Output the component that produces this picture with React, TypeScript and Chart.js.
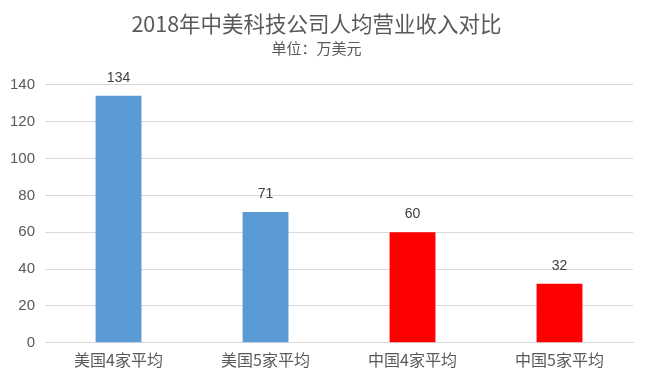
import React, { useEffect, useRef } from "react";
import { Chart, registerables } from "chart.js";

Chart.register(...registerables);

const categories = ["美国4家平均", "美国5家平均", "中国4家平均", "中国5家平均"];
const values = [134, 71, 60, 32];
const barColors = ["#5B9BD5", "#5B9BD5", "#FF0000", "#FF0000"];
const titleText = "2018年中美科技公司人均营业收入对比";
const subtitleText = "单位：万美元";

const CJK = "'Noto Sans CJK SC', 'Noto Sans', sans-serif";

const valueLabels = {
  id: "valueLabels",
  afterDatasetsDraw(chart: any) {
    const ctx = chart.ctx;
    const meta = chart.getDatasetMeta(0);
    ctx.save();
    ctx.font = `14px 'Liberation Sans', ${CJK}`;
    ctx.fillStyle = "#404040";
    ctx.textAlign = "center";
    ctx.textBaseline = "bottom";
    meta.data.forEach((el: any, i: number) => {
      ctx.fillText(String(values[i]), el.x, el.y - 11);
    });
    ctx.restore();
  },
};

export default function App() {
  const ref = useRef<HTMLCanvasElement | null>(null);
  useEffect(() => {
    document.body.style.margin = "0";
    const chart = new Chart(ref.current!, {
      type: "bar",
      data: {
        labels: categories,
        datasets: [
          {
            data: values,
            backgroundColor: barColors,
            barPercentage: 0.312,
            categoryPercentage: 1,
          },
        ],
      },
      options: {
        animation: false,
        responsive: false,
        layout: { padding: { left: 0, right: 14, top: 0, bottom: 10 } },
        plugins: {
          legend: { display: false },
          tooltip: { enabled: false },
          title: {
            display: true,
            text: titleText,
            color: "#595959",
            font: { family: CJK, size: 21.5, weight: "normal" },
            padding: { top: 11, bottom: 2 },
          },
          subtitle: {
            display: true,
            text: subtitleText,
            color: "#595959",
            font: { family: CJK, size: 15, weight: "normal" },
            padding: { top: 0, bottom: 28 },
          },
        },
        scales: {
          x: {
            grid: { display: false },
            border: { color: "#D9D9D9", width: 1 },
            ticks: {
              color: "#595959",
              font: { family: CJK, size: 16 },
              padding: 0,
            },
          },
          y: {
            min: 0,
            max: 140,
            ticks: {
              stepSize: 20,
              color: "#595959",
              font: { family: "'Liberation Sans', sans-serif", size: 15 },
              padding: 10,
            },
            grid: { color: "#D9D9D9", drawTicks: false },
            border: { display: false },
          },
        },
      },
      plugins: [valueLabels],
    });
    return () => chart.destroy();
  }, []);
  return <canvas ref={ref} width={647} height={380} style={{ display: "block" }} />;
}
